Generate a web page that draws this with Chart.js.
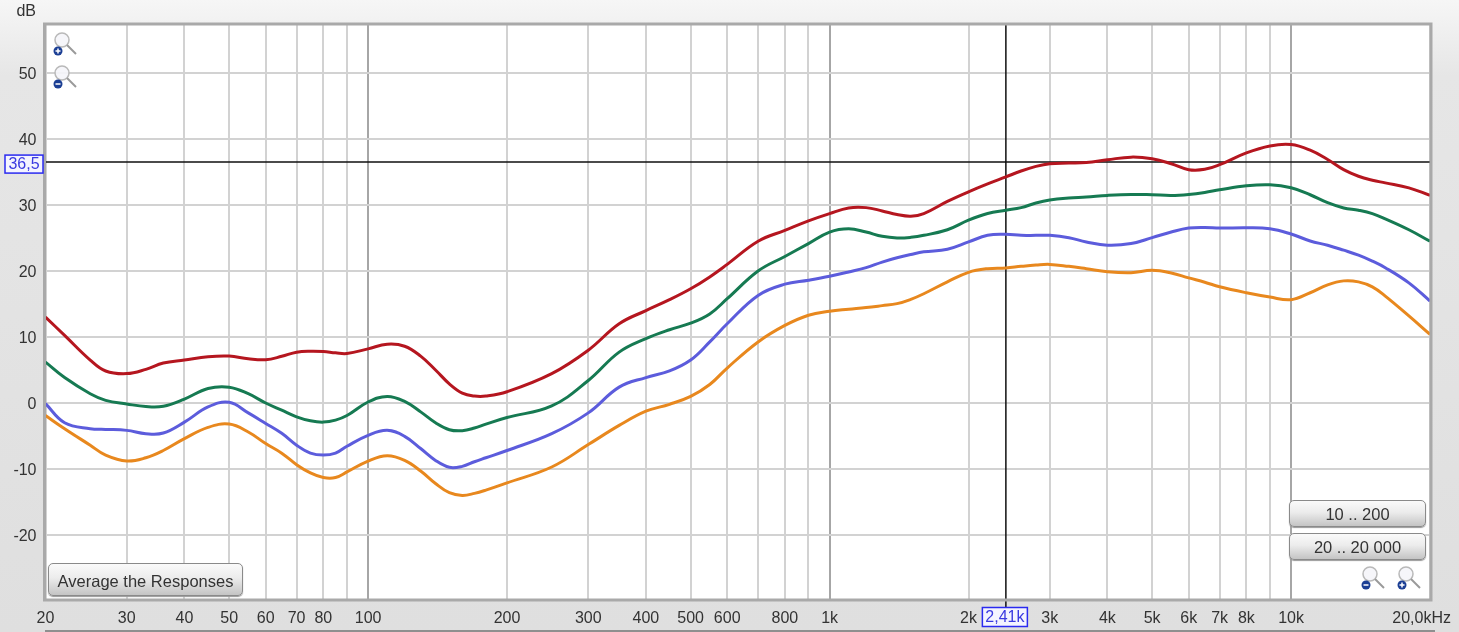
<!DOCTYPE html>
<html>
<head>
<meta charset="utf-8">
<title>Response</title>
<script src="https://cdn.jsdelivr.net/npm/chart.js@4"></script>
<style>
html,body{margin:0;padding:0;overflow:hidden;}
#box{position:relative;width:1459px;height:632px;background:linear-gradient(#f6f6f6,#e6e6e6 12%,#dfdfdf);font-family:"Liberation Sans",Arial,sans-serif;}
canvas{position:absolute;left:0;top:0;}
.btn{position:absolute;box-sizing:border-box;border:1px solid #8a8a8a;border-radius:5px;background:linear-gradient(#fafafa,#ececec 45%,#c4c4c4);box-shadow:0 1px 1px #999;color:#333;font-size:16.5px;text-align:center;}
#strip{position:absolute;left:45px;top:630px;width:1390px;height:2px;background:#8f8f8f;}
</style>
</head>
<body>
<div id="box">
    <canvas id="resp" width="1459" height="632"></canvas>
    <div id="strip"></div>
    <div class="btn" style="left:48px;top:563px;width:195px;height:33px;line-height:34px;">Average the Responses</div>
    <div class="btn" style="left:1289px;top:500px;width:137px;height:27px;line-height:27px;">10 .. 200</div>
    <div class="btn" style="left:1289px;top:533px;width:137px;height:27px;line-height:27px;">20 .. 20 000</div>
</div>
<script>
const freqs = [20,22,25,27,30,33,36,40,45,50,55,60,65,70,75,80,85,90,100,110,120,130,140,150,160,170,180,200,
    250,300,350,400,450,500,550,600,700,800,900,1000,1100,1200,1300,1400,1500,1600,1800,2000,
    2200,2410,2600,2800,3000,3300,3600,4000,4500,5000,5500,6000,6500,7000,8000,9000,
    10000,11000,12000,13000,14000,15000,16000,18000,20000];

const redDb = [13.0,10.25,6.5,4.85,4.45,5.1,6.05,6.5,7.0,7.1,6.7,6.55,7.07,7.7,7.85,7.8,7.6,7.5,8.2,8.9,8.6,7.1,5.0,2.9,1.5,1.05,1.05,1.7,
    4.45,8.0,12.0,14.0,15.65,17.3,19.1,21.0,24.5,26.15,27.6,28.7,29.55,29.6,29.1,28.55,28.3,28.7,30.55,32.0,
    33.2,34.25,35.15,35.85,36.25,36.35,36.45,36.85,37.25,37.0,36.25,35.35,35.4,36.1,37.9,38.95,
    39.15,38.3,36.9,35.35,34.35,33.75,33.35,32.6,31.45];
const greenDb = [6.2,3.85,1.4,0.4,-0.15,-0.55,-0.5,0.6,2.2,2.4,1.4,0.0,-1.1,-2.1,-2.7,-2.9,-2.6,-1.9,0.15,1.0,0.25,-1.35,-3.0,-4.05,-4.2,-3.8,-3.2,-2.2,
    -0.45,3.4,7.7,9.75,11.1,12.1,13.5,15.8,20.0,22.2,24.15,25.9,26.4,25.9,25.25,25.0,25.1,25.4,26.25,27.7,
    28.7,29.2,29.6,30.3,30.75,31.05,31.2,31.45,31.6,31.55,31.45,31.6,31.9,32.3,32.9,33.05,
    32.6,31.55,30.35,29.55,29.2,28.7,27.9,26.25,24.5];
const blueDb = [-0.1,-3.0,-3.9,-4.0,-4.15,-4.65,-4.55,-2.9,-0.6,0.1,-1.5,-3.1,-4.6,-6.4,-7.6,-7.9,-7.6,-6.55,-4.9,-4.15,-5.05,-6.9,-8.7,-9.75,-9.6,-8.9,-8.3,-7.2,
    -4.65,-1.5,2.4,3.85,4.85,6.5,9.25,12.0,16.3,18.0,18.6,19.2,19.85,20.5,21.35,22.0,22.5,22.9,23.3,24.4,
    25.4,25.55,25.4,25.4,25.4,25.05,24.4,23.9,24.15,25.05,25.9,26.5,26.6,26.5,26.55,26.4,
    25.6,24.55,23.9,23.15,22.4,21.5,20.5,18.2,15.45];
const orangeDb = [-1.9,-3.9,-6.4,-7.9,-8.8,-8.3,-7.2,-5.4,-3.7,-3.2,-4.4,-6.15,-7.6,-9.35,-10.6,-11.3,-11.3,-10.45,-8.8,-8.0,-8.7,-10.3,-12.2,-13.6,-14.0,-13.7,-13.2,-12.1,
    -9.7,-6.3,-3.4,-1.25,-0.2,1.0,2.8,5.3,9.25,11.75,13.3,13.9,14.2,14.45,14.75,15.05,15.7,16.55,18.35,19.8,
    20.35,20.45,20.7,20.9,21.0,20.7,20.35,19.9,19.75,20.1,19.7,18.95,18.3,17.6,16.7,16.05,
    15.65,16.7,17.9,18.5,18.35,17.6,16.2,13.2,10.4];

const freqTicks = [20,30,40,50,60,70,80,90,100,200,300,400,500,600,700,800,900,1000,2000,3000,4000,5000,6000,7000,8000,9000,10000,20000];
const freqLabels = ['20','30','40','50','60','70','80','','100','200','300','400','500','600','','800','','1k','2k','3k','4k','5k','6k','7k','8k','','10k',''];
const dbTicks = [50,40,30,20,10,0,-10,-20];
const decades = [100,1000,10000];
const cursorFreq = 2410;
const cursorDb = 36.5;
const cursorFreqText = '2,41k';
const cursorDbText = '36,5';
const lastFreqText = '20,0kHz';
const yUnit = 'dB';

const toPoints = vals => freqs.map((f,i) => ({x:f, y:vals[i]}));
const curve = (vals,color) => ({data:toPoints(vals), borderColor:color, borderWidth:3, pointRadius:0, tension:0.4, fill:false});

function labelBox(ctx,text,cx,cy,w,h)
{
    ctx.fillStyle = '#f4f4ff';
    ctx.fillRect(cx-w/2,cy-h/2,w,h);
    ctx.strokeStyle = '#2a2af0';
    ctx.lineWidth = 1.5;
    ctx.strokeRect(cx-w/2,cy-h/2,w,h);
    ctx.fillStyle = '#3a3ae0';
    ctx.textAlign = 'center';
    ctx.textBaseline = 'middle';
    ctx.fillText(text,cx,cy+1);
}

// magnifier icon, drawn on the canvas so it sits over the grid
function lens(ctx,x,y,plus)
{
    ctx.save();
    ctx.translate(x,y);
    ctx.fillStyle = 'rgba(255,255,255,.75)';
    ctx.beginPath(); ctx.moveTo(5,22); ctx.lineTo(23,22); ctx.lineTo(14,12); ctx.fill();
    ctx.strokeStyle = '#b9b9b9';
    ctx.lineWidth = 1.5;
    ctx.beginPath(); ctx.arc(9,8,7,0,Math.PI*2); ctx.fillStyle='rgba(245,245,250,.9)'; ctx.fill(); ctx.stroke();
    ctx.strokeStyle = '#9a9a9a';
    ctx.lineWidth = 2;
    ctx.beginPath(); ctx.moveTo(14,13); ctx.lineTo(23,22); ctx.stroke();
    ctx.fillStyle = '#1c3f94';
    ctx.beginPath(); ctx.arc(5,19,4.5,0,Math.PI*2); ctx.fill();
    ctx.strokeStyle = '#fff';
    ctx.lineWidth = 1.5;
    ctx.beginPath(); ctx.moveTo(2.5,19); ctx.lineTo(7.5,19);
    if(plus){ ctx.moveTo(5,16.5); ctx.lineTo(5,21.5); }
    ctx.stroke();
    ctx.restore();
}

const framePlugin = {
    id:'frame',
    beforeDraw(chart)
    {
        const {ctx,chartArea:a} = chart;
        ctx.save();
        ctx.fillStyle = '#fff';
        ctx.fillRect(a.left,a.top,a.right-a.left,a.bottom-a.top);
        ctx.restore();
    },
    beforeDatasetsDraw(chart)
    {
        const {ctx,chartArea:a,scales} = chart;
        const cx = scales.x.getPixelForValue(cursorFreq);
        const cy = scales.y.getPixelForValue(cursorDb);
        ctx.save();
        ctx.strokeStyle = '#111';
        ctx.lineWidth = 1.5;
        ctx.beginPath();
        ctx.moveTo(a.left,cy); ctx.lineTo(a.right,cy);
        ctx.moveTo(cx,a.top); ctx.lineTo(cx,a.bottom+8);
        ctx.stroke();
        ctx.restore();
    },
    afterDraw(chart)
    {
        const {ctx,chartArea:a,scales} = chart;
        ctx.save();
        ctx.strokeStyle = '#a9a9a9';
        ctx.lineWidth = 3;
        ctx.strokeRect(a.left-1,a.top-1,a.right-a.left+2,a.bottom-a.top+2);
        ctx.font = '16px "Liberation Sans", Arial, sans-serif';
        ctx.fillStyle = '#333';
        ctx.textBaseline = 'middle';
        ctx.textAlign = 'right';
        ctx.fillText(yUnit,36,12);
        ctx.fillText(lastFreqText,1451,619);
        labelBox(ctx,cursorDbText,24,scales.y.getPixelForValue(cursorDb)+2,38,18);
        labelBox(ctx,cursorFreqText,scales.x.getPixelForValue(cursorFreq)-1,617,45,19);
        lens(ctx,53,32,true);
        lens(ctx,53,65,false);
        lens(ctx,1361,566,false);
        lens(ctx,1397,566,true);
        ctx.restore();
    }
};

new Chart('resp',{
    type:'line',
    data:{datasets:[curve(redDb,'#b5161f'),curve(greenDb,'#167a52'),curve(blueDb,'#5c5cdc'),curve(orangeDb,'#e8881e')]},
    plugins:[framePlugin],
    options:{
        responsive:false,
        animation:false,
        parsing:false,
        events:[],
        layout:{padding:{top:25,right:29,bottom:0,left:0}},
        plugins:{legend:{display:false},tooltip:{enabled:false}},
        scales:{
            x:{
                type:'logarithmic',
                min:20,
                max:20000,
                afterBuildTicks:s => { s.ticks = freqTicks.map(v => ({value:v})); },
                afterFit:s => { s.height = 33; },
                grid:{
                    drawTicks:false,
                    lineWidth:2,
                    color:c => decades.includes(c.tick && c.tick.value) ? '#a6a6a6' : '#d2d2d2'
                },
                border:{display:false},
                ticks:{
                    autoSkip:false,
                    maxRotation:0,
                    padding:10,
                    color:'#333',
                    font:{family:'"Liberation Sans", Arial, sans-serif',size:16},
                    callback:(v,i) => freqLabels[i]
                }
            },
            y:{
                min:-29.7,
                max:57.27,
                afterBuildTicks:s => { s.ticks = dbTicks.map(v => ({value:v})); },
                afterFit:s => { s.width = 45.5; },
                grid:{drawTicks:false,lineWidth:2,color:'#d2d2d2'},
                border:{display:false},
                ticks:{
                    padding:9,
                    color:'#333',
                    // empty first line with a small line height moves the text 2px down
                    font:{family:'"Liberation Sans", Arial, sans-serif',size:16,lineHeight:'4px'},
                    callback:v => ['',String(v)]
                }
            }
        }
    }
});
</script>
</body>
</html>
